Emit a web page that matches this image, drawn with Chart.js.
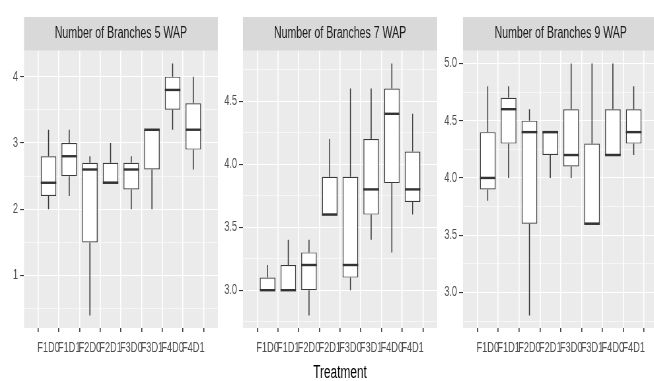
<!DOCTYPE html>
<html>
<head>
<meta charset="utf-8">
<script src="https://cdn.jsdelivr.net/npm/chart.js@4.4.1/dist/chart.umd.min.js"></script>
<style>
  html, body { margin: 0; padding: 0; background: #ffffff; overflow: hidden; width: 654px; height: 381px; }
  canvas { position: absolute; top: 0; transform-origin: 0 0; transform: scaleX(0.66); }
  #p5 { left: 0; }
  #p7 { left: 218px; }
  #p9 { left: 438px; }
</style>
</head>
<body>
<canvas id="p5" width="330" height="381"></canvas>
<canvas id="p7" width="332" height="381"></canvas>
<canvas id="p9" width="334" height="381"></canvas>
<script>
// Treatments on the x axis
const treatments = ['F1D0', 'F1D1', 'F2D0', 'F2D1', 'F3D0', 'F3D1', 'F4D0', 'F4D1'];

// Number of branches, 5 weeks after planting: five-number summaries
const wap5Lower  = [2.0, 2.2, 0.4, 2.4, 2.0, 2.0, 3.2, 2.6];
const wap5Q1     = [2.2, 2.5, 1.5, 2.4, 2.3, 2.6, 3.5, 2.9];
const wap5Median = [2.4, 2.8, 2.6, 2.4, 2.6, 3.2, 3.8, 3.2];
const wap5Q3     = [2.8, 3.0, 2.7, 2.7, 2.7, 3.2, 4.0, 3.6];
const wap5Upper  = [3.2, 3.2, 2.8, 3.0, 2.8, 3.2, 4.2, 4.0];

// 7 weeks after planting
const wap7Lower  = [3.0, 3.0, 2.8, 3.6, 3.0, 3.4, 3.3, 3.6];
const wap7Q1     = [3.0, 3.0, 3.0, 3.6, 3.1, 3.6, 3.85, 3.7];
const wap7Median = [3.0, 3.0, 3.2, 3.6, 3.2, 3.8, 4.4, 3.8];
const wap7Q3     = [3.1, 3.2, 3.3, 3.9, 3.9, 4.2, 4.6, 4.1];
const wap7Upper  = [3.2, 3.4, 3.4, 4.2, 4.6, 4.6, 4.8, 4.4];

// 9 weeks after planting
const wap9Lower  = [3.8, 4.0, 2.8, 4.0, 4.0, 3.6, 4.2, 4.2];
const wap9Q1     = [3.9, 4.3, 3.6, 4.2, 4.1, 3.6, 4.2, 4.3];
const wap9Median = [4.0, 4.6, 4.4, 4.4, 4.2, 3.6, 4.2, 4.4];
const wap9Q3     = [4.4, 4.7, 4.5, 4.4, 4.6, 4.3, 4.6, 4.6];
const wap9Upper  = [4.8, 4.8, 4.6, 4.4, 5.0, 5.0, 5.0, 4.8];

// Y axis ticks (labelled majors and unlabelled minor grid lines)
const wap5YTicks  = [1, 2, 3, 4];
const wap5YLabels = ['1', '2', '3', '4'];
const wap5YMinor  = [0.5, 1.5, 2.5, 3.5];
const wap7YTicks  = [3.0, 3.5, 4.0, 4.5];
const wap7YLabels = ['3.0', '3.5', '4.0', '4.5'];
const wap7YMinor  = [2.75, 3.25, 3.75, 4.25, 4.75];
const wap9YTicks  = [3.0, 3.5, 4.0, 4.5, 5.0];
const wap9YLabels = ['3.0', '3.5', '4.0', '4.5', '5.0'];
const wap9YMinor  = [2.75, 3.25, 3.75, 4.25, 4.75];

const FONT = "'Liberation Sans', Arial, sans-serif";
// canvases are drawn wide and squeezed horizontally by this factor (see CSS)
const SQUEEZE = 0.66;
const vw = w => w / SQUEEZE;   // width of a vertical stroke as it should appear on screen

// Facet strip + panel background, then whiskers and medians on top of the boxes
const boxPlot = {
  id: 'boxPlot',
  beforeDraw(chart) {
    const { ctx, chartArea: a } = chart;
    const t = chart.titleBlock;
    ctx.save();
    ctx.fillStyle = '#D9D9D9';
    ctx.fillRect(a.left, t.top, a.right - a.left, a.top - t.top);
    ctx.fillStyle = '#EBEBEB';
    ctx.fillRect(a.left, a.top, a.right - a.left, a.bottom - a.top);
    ctx.restore();
  },
  afterDatasetsDraw(chart, args, s) {
    const { ctx } = chart;
    const y = chart.scales.y;
    const bars = chart.getDatasetMeta(0).data;
    ctx.save();
    ctx.strokeStyle = '#333333';
    ctx.lineCap = 'butt';
    bars.forEach((bar, i) => {
      const { x, width } = bar.getProps(['x', 'width'], true);
      ctx.lineWidth = vw(1.0);
      ctx.beginPath();
      ctx.moveTo(x, y.getPixelForValue(s.upper[i]));
      ctx.lineTo(x, y.getPixelForValue(s.q3[i]));
      ctx.moveTo(x, y.getPixelForValue(s.q1[i]));
      ctx.lineTo(x, y.getPixelForValue(s.lower[i]));
      ctx.stroke();
      const ym = y.getPixelForValue(s.median[i]);
      ctx.lineWidth = 2.4;
      ctx.beginPath();
      ctx.moveTo(x - width / 2, ym);
      ctx.lineTo(x + width / 2, ym);
      ctx.stroke();
    });
    ctx.restore();
  }
};

function panel(id, title, s, yMin, yMax, majors, labels, minors, yAxisWidth, showXTitle) {
  const allY = majors.concat(minors).sort((a, b) => a - b);
  const isMajor = c => c.tick && majors.includes(c.tick.value);
  return new Chart(document.getElementById(id), {
    type: 'bar',
    data: {
      datasets: [{
        data: s.q1.map((q, i) => ({ x: i, y: [q, s.q3[i]] })),
        backgroundColor: '#FFFFFF',
        borderColor: '#3A3A3A',
        borderWidth: { top: 1.2, bottom: 1.2, left: vw(1.0), right: vw(1.0) },
        borderSkipped: false,
        barPercentage: 0.75,
        categoryPercentage: 1
      }]
    },
    options: {
      responsive: false,
      animation: false,
      devicePixelRatio: 1,
      events: [],
      layout: { padding: { top: 17, left: 0, right: 0, bottom: 0 } },
      plugins: {
        legend: { display: false },
        tooltip: { enabled: false },
        title: {
          display: true,
          text: title,
          fullSize: false,
          color: '#1A1A1A',
          font: { family: FONT, size: 16, weight: 'normal', lineHeight: 1.2 },
          padding: { top: 7, bottom: 7.6 }
        },
        boxPlot: s
      },
      scales: {
        x: {
          type: 'linear',
          min: -0.6,
          max: 7.6,
          afterBuildTicks: sc => { sc.ticks = treatments.map((_, i) => ({ value: i })); },
          afterFit: sc => { sc.height = 53; },
          ticks: {
            autoSkip: false, maxRotation: 0, minRotation: 0, padding: 8,
            color: '#4D4D4D',
            font: { family: FONT, size: 14 },
            callback: v => treatments[v]
          },
          grid: { color: '#FFFFFF', lineWidth: vw(1.1), tickLength: 4, tickColor: '#333333', tickWidth: vw(1.0) },
          border: { display: false },
          title: {
            display: showXTitle,
            text: 'Treatment',
            color: '#000000',
            font: { family: FONT, size: 18, lineHeight: 0.9 },
            padding: { top: 0, bottom: 0 }
          }
        },
        y: {
          min: yMin,
          max: yMax,
          afterBuildTicks: sc => { sc.ticks = allY.map(v => ({ value: v })); },
          afterFit: sc => { sc.width = yAxisWidth; },
          ticks: {
            autoSkip: false, padding: 3,
            color: '#4D4D4D',
            font: { family: FONT, size: 14 },
            callback: v => { const k = majors.indexOf(v); return k < 0 ? '' : labels[k]; }
          },
          grid: {
            color: '#FFFFFF',
            lineWidth: c => isMajor(c) ? 1.1 : 0.55,
            tickLength: 6,
            tickColor: c => isMajor(c) ? '#333333' : 'rgba(0,0,0,0)',
            tickWidth: 1.1
          },
          border: { display: false }
        }
      }
    },
    plugins: [boxPlot]
  });
}

panel('p5', 'Number of Branches 5 WAP',
  { lower: wap5Lower, q1: wap5Q1, median: wap5Median, q3: wap5Q3, upper: wap5Upper },
  0.21, 4.39, wap5YTicks, wap5YLabels, wap5YMinor, vw(24), false);

panel('p7', 'Number of Branches 7 WAP',
  { lower: wap7Lower, q1: wap7Q1, median: wap7Median, q3: wap7Q3, upper: wap7Upper },
  2.7, 4.9, wap7YTicks, wap7YLabels, wap7YMinor, vw(25), true);

panel('p9', 'Number of Branches 9 WAP',
  { lower: wap9Lower, q1: wap9Q1, median: wap9Median, q3: wap9Q3, upper: wap9Upper },
  2.69, 5.11, wap9YTicks, wap9YLabels, wap9YMinor, vw(25), false);
</script>
</body>
</html>
